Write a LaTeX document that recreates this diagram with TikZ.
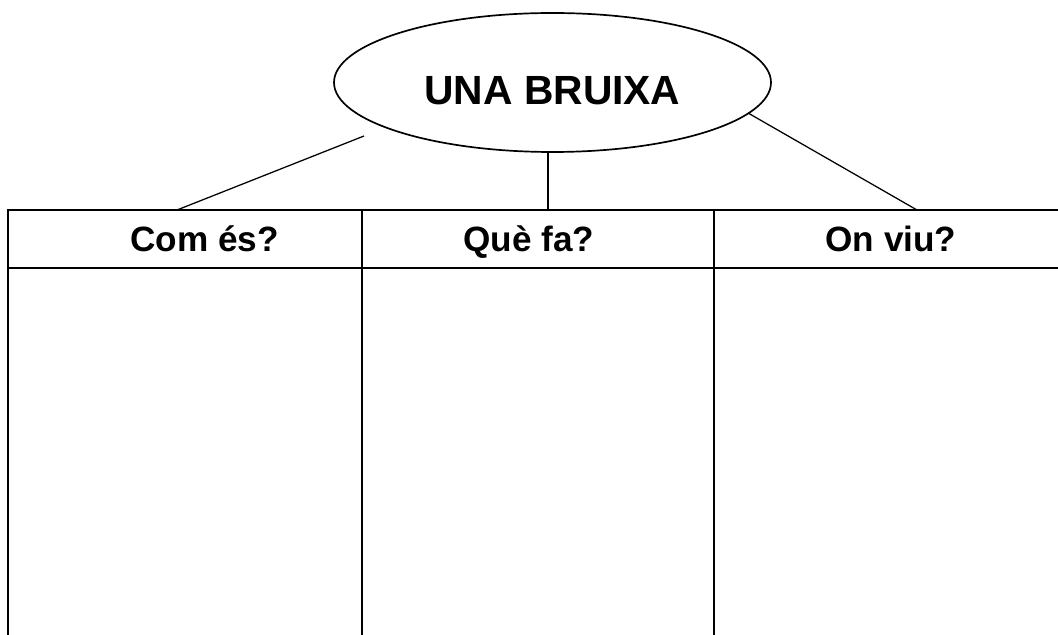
\documentclass[tikz,border=0pt]{standalone}
\usepackage{fontspec}
\setmainfont{Liberation Sans}
\usetikzlibrary{shapes.geometric}
\tikzset{
	thinline/.style={line width=0.9pt},
	thickline/.style={line width=1.5pt},
	headtext/.style={font=\fontsize{25}{30}\selectfont\bfseries, inner sep=0pt, anchor=base},
}

\begin{document}
\begin{tikzpicture}[x=0.025cm, y=-0.025cm]
			%%%%% START %%%%%
			\useasboundingbox (0, 0) rectangle (1058, 635);
			
			% topic
			\node[draw, ellipse, line width=1.2pt, minimum width=437*0.025cm, minimum height=139*0.025cm, inner sep=0pt] (bruixa) at (552.5, 82.5) {};
			\node[font=\fontsize{29}{34}\selectfont\bfseries, inner sep=0pt, anchor=base] (title) at (552.5, 105) {UNA BRUIXA};
			
			% ends of the lines on top of the table
			\coordinate (gap) at (364, 136);
			\coordinate (mid) at (548, 152);
			\coordinate (t1) at (177, 210);
			\coordinate (t2) at (548, 210);
			\coordinate (t3) at (917, 210);
			
			\draw[thinline] (gap) -- (t1);
			\draw[thinline] (mid) -- (t2);
			\draw[thinline] (bruixa.-9) -- (t3);
			
			% table
			\draw[thinline] (8, 210) -- (1058, 210);
			\draw[thinline] (8, 268) -- (1058, 268);
			\draw[thickline] (8, 209.5) -- (8, 635);
			\draw[thinline] (362, 210) -- (362, 635);
			\draw[thickline] (714, 210) -- (714, 635);
			
			\node[headtext] (com) at (204.5, 251.5) {Com és?};
			\node[headtext] (que) at (529, 251.5) {Què fa?};
			\node[headtext] (on) at (891, 251.5) {On viu?};
			
			%%%%% END %%%%%
		\end{tikzpicture}
\end{document}
